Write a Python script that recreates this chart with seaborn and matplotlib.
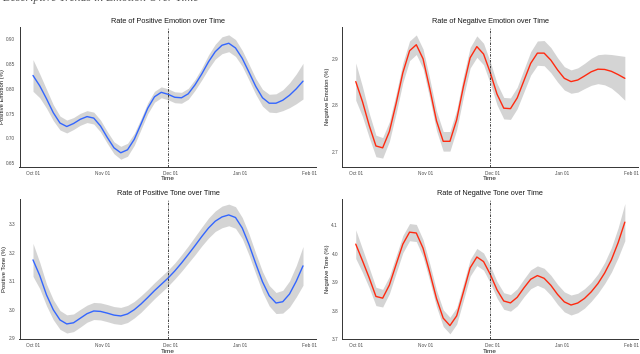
import numpy as np
import pandas as pd
import matplotlib
matplotlib.use("Agg")
import matplotlib.pyplot as plt
import matplotlib.dates as mdates
import seaborn as sns

sns.set_style("white")
plt.rcParams['font.family'] = ['Liberation Sans', 'DejaVu Sans']

# smoothed trend, one value every 3 days from Oct 01
dates = pd.date_range("2019-10-01", periods=41, freq="3D")

pos_emotion = [0.827, 0.806, 0.780, 0.752, 0.731, 0.724, 0.730, 0.7385, 0.744, 0.741,
               0.725, 0.702, 0.681, 0.671, 0.677, 0.698, 0.729, 0.761, 0.784, 0.793,
               0.789, 0.783, 0.782, 0.790, 0.808, 0.830, 0.8545, 0.875, 0.888, 0.892,
               0.8825, 0.8615, 0.8335, 0.805, 0.782, 0.771, 0.771, 0.777, 0.787, 0.800,
               0.8155]
pos_emotion_ci = [0.032, 0.024, 0.019, 0.016, 0.014, 0.013, 0.012, 0.012, 0.012, 0.012,
                  0.012, 0.012, 0.012, 0.013, 0.013, 0.012, 0.011, 0.011, 0.011, 0.011,
                  0.011, 0.011, 0.011, 0.011, 0.011, 0.012, 0.014, 0.015, 0.017, 0.017,
                  0.017, 0.016, 0.016, 0.016, 0.017, 0.018, 0.019, 0.021, 0.025, 0.030,
                  0.036]

neg_emotion = [2.851, 2.808, 2.757, 2.713, 2.709, 2.744, 2.804, 2.870, 2.917, 2.930,
               2.900, 2.836, 2.767, 2.723, 2.723, 2.769, 2.840, 2.902, 2.926, 2.910,
               2.870, 2.824, 2.794, 2.793, 2.816, 2.853, 2.890, 2.912, 2.912, 2.897,
               2.876, 2.858, 2.851, 2.8544, 2.863, 2.872, 2.8776, 2.877, 2.873, 2.866,
               2.858]
neg_emotion_ci = [0.040, 0.032, 0.026, 0.023, 0.022, 0.021, 0.021, 0.021, 0.021, 0.021,
                  0.021, 0.021, 0.021, 0.021, 0.021, 0.021, 0.022, 0.022, 0.023, 0.023,
                  0.023, 0.023, 0.023, 0.023, 0.023, 0.024, 0.025, 0.026, 0.027, 0.027,
                  0.026, 0.025, 0.025, 0.026, 0.027, 0.029, 0.031, 0.033, 0.036, 0.041,
                  0.047]

pos_tone = [3.175, 3.120, 3.052, 3.000, 2.964, 2.950, 2.954, 2.970, 2.986, 2.9955,
            2.994, 2.988, 2.981, 2.978, 2.985, 3.000, 3.020, 3.043, 3.067, 3.089,
            3.111, 3.136, 3.164, 3.194, 3.225, 3.257, 3.287, 3.311, 3.326, 3.333,
            3.324, 3.287, 3.229, 3.162, 3.098, 3.049, 3.0235, 3.028, 3.055, 3.100,
            3.154]
pos_tone_ci = [0.058, 0.046, 0.038, 0.035, 0.033, 0.032, 0.031, 0.031, 0.030, 0.030,
               0.030, 0.030, 0.030, 0.030, 0.030, 0.029, 0.029, 0.028, 0.028, 0.028,
               0.028, 0.028, 0.029, 0.030, 0.032, 0.033, 0.035, 0.036, 0.038, 0.038,
               0.038, 0.037, 0.037, 0.036, 0.036, 0.036, 0.037, 0.040, 0.046, 0.055,
               0.068]

neg_tone = [4.033, 3.975, 3.915, 3.850, 3.844, 3.890, 3.962, 4.033, 4.075, 4.072,
            4.019, 3.934, 3.843, 3.774, 3.748, 3.782, 3.865, 3.950, 3.988, 3.972,
            3.927, 3.873, 3.834, 3.8274, 3.847, 3.880, 3.910, 3.923, 3.9135, 3.889,
            3.857, 3.831, 3.820, 3.827, 3.843, 3.866, 3.895, 3.932, 3.978, 4.038,
            4.110]
neg_tone_ci = [0.050, 0.041, 0.035, 0.032, 0.031, 0.030, 0.030, 0.030, 0.030, 0.030,
               0.030, 0.030, 0.029, 0.029, 0.029, 0.029, 0.029, 0.029, 0.030, 0.030,
               0.030, 0.029, 0.029, 0.029, 0.030, 0.031, 0.033, 0.034, 0.035, 0.035,
               0.035, 0.035, 0.035, 0.034, 0.034, 0.033, 0.034, 0.037, 0.043, 0.052,
               0.065]

event_date = pd.Timestamp("2019-11-30")

panels = [
    ("Rate of Positive Emotion over Time", "Positive Emotion (%)", pos_emotion, pos_emotion_ci,
     "#3366FF", (0.6433, 0.9248), [0.65, 0.70, 0.75, 0.80, 0.85, 0.90], "%.2f"),
    ("Rate of Negative Emotion over Time", "Negative Emotion (%)", neg_emotion, neg_emotion_ci,
     "#FF2A10", (2.669, 2.968), [2.7, 2.8, 2.9], "%.1f"),
    ("Rate of Positive Tone over Time", "Positive Tone (%)", pos_tone, pos_tone_ci,
     "#3366FF", (2.896, 3.389), [2.9, 3.0, 3.1, 3.2, 3.3], "%.1f"),
    ("Rate of Negative Tone over Time", "Negative Tone (%)", neg_tone, neg_tone_ci,
     "#FF2A10", (3.700, 4.191), [3.7, 3.8, 3.9, 4.0, 4.1], "%.1f"),
]

# axes boxes in pixels: left, top, right, bottom
W, H = 640, 354
boxes = [(19.5, 27, 316.5, 166.5), (342.3, 27, 638.3, 166.5),
         (19.5, 199, 316.5, 339.3), (342.3, 199, 638.3, 339.3)]

fig = plt.figure(figsize=(6.4, 3.54), dpi=100)

for (title, ylabel, vals, ci, color, ylim, yticks, fmt), (l, t, r, b) in zip(panels, boxes):
    ax = fig.add_axes([l / W, (H - b) / H, (r - l) / W, (b - t) / H])
    df = pd.DataFrame({"date": dates, "value": vals, "ci": ci})
    ax.fill_between(df["date"], df["value"] - df["ci"], df["value"] + df["ci"],
                    color="#D4D4D4", linewidth=0, zorder=1)
    sns.lineplot(data=df, x="date", y="value", color=color, linewidth=1.0, ax=ax, zorder=2)
    ax.axvline(event_date, color="#222222", linestyle=(0, (3, 1.5, 1, 1.5)), linewidth=0.6, zorder=3)

    ax.set_xlim(pd.Timestamp("2019-09-25"), pd.Timestamp("2020-02-04"))
    ax.set_ylim(*ylim)
    ax.set_xticks(pd.to_datetime(["2019-10-01", "2019-11-01", "2019-12-01", "2020-01-01", "2020-02-01"]))
    ax.xaxis.set_major_formatter(mdates.DateFormatter("%b %d"))
    ax.set_yticks(yticks)
    ax.set_yticklabels([fmt % v for v in yticks])

    ax.set_title(title, fontsize=5.3, color="#1a1a1a", pad=3)
    ax.set_xlabel("Time", fontsize=4.6, color="#1a1a1a", labelpad=0.5)
    ax.set_ylabel(ylabel, fontsize=4.2, color="#1a1a1a", labelpad=1)
    ax.tick_params(axis="both", labelsize=3.4, colors="#4D4D4D", length=2, width=0.5, pad=1)
    sns.despine(ax=ax)
    for side in ["left", "bottom"]:
        ax.spines[side].set_color("#333333")
        ax.spines[side].set_linewidth(0.7)

# heading sits above the top edge in the source, only its lowest strip shows
fig.text(0.004, 1 - 1.2 / H, "Descriptive Trends in Emotion Over Time", fontsize=8.5,
         family="Liberation Serif", style="italic", color="#555555", va="baseline")

fig.savefig("out.png", dpi=100)
